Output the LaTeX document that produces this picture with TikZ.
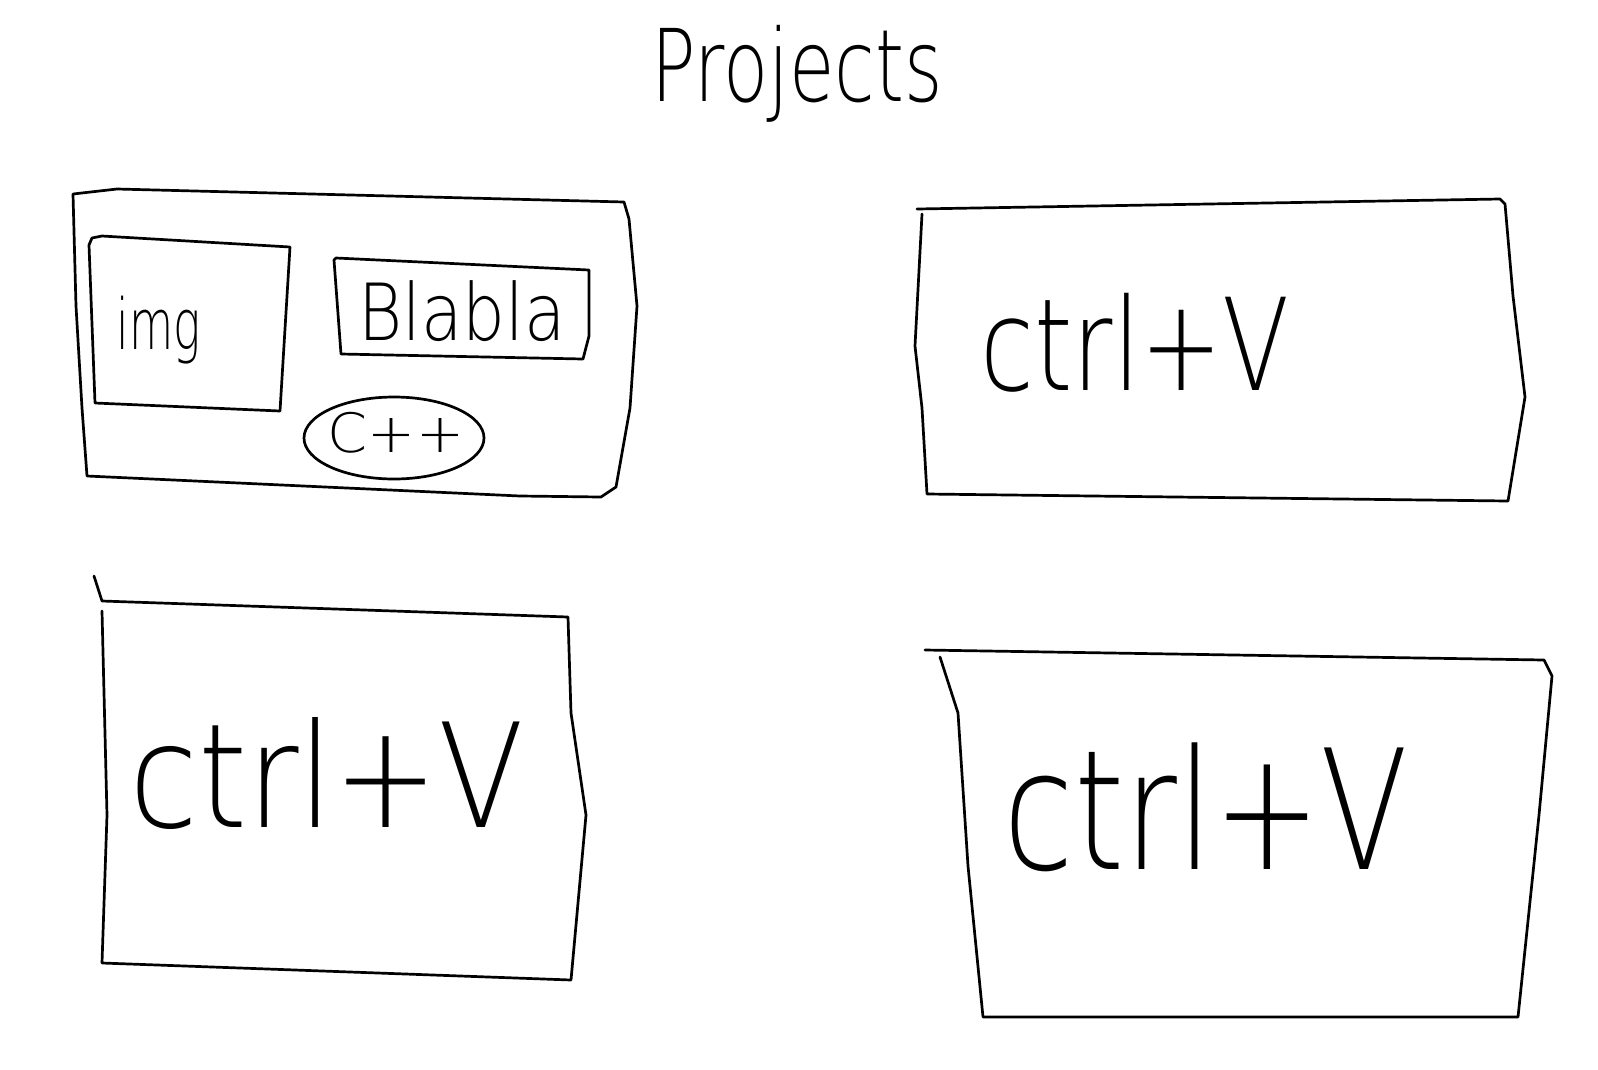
\documentclass[tikz,border=0pt]{standalone}
\usepackage{fontspec}
\setmainfont{DejaVu Sans ExtraLight}
\begin{document}
\begin{tikzpicture}[x=1pt,y=-1pt,
  sketch/.style={line width=2.7pt, line join=round, line cap=round},
  hand/.style={inner sep=0pt, anchor=center}]
\useasboundingbox[fill=white] (0,0) rectangle (1598,1069);
% title
\node[hand] (title) at (797,74) {\resizebox*{291pt}{97pt}{Projects}};
% box 1
\draw[sketch] (73,194) -- (117,189) -- (624,202) -- (629,219) -- (637,306) -- (630,408) -- (616,487) -- (601,497) -- (520,496) -- (87,476) -- (82,408) -- (76,306) -- cycle;
\draw[sketch] (89,245) -- (92,238) -- (102,236) -- (290,247) -- (280,411) -- (95,403) -- cycle;
\draw[sketch] (334,260) -- (336,258) -- (589,270) -- (589,336) -- (583,359) -- (341,354) -- cycle;
\draw[sketch] (394,438) ellipse [x radius=90, y radius=41];
\node[hand] (img) at (159,330) {\resizebox*{84pt}{68pt}{img}};
\node[hand] (blabla) at (462,311) {\resizebox*{207pt}{61pt}{Blabla}};
\node[hand] (cpp) at (396,433) {\resizebox*{136pt}{41pt}{C++}};
% box 2
\draw[sketch] (917,209) -- (1500,199) -- (1505,204) -- (1513,296) -- (1525,397) -- (1508,501) -- (927,494) -- (922,408) -- (915,346) -- (922,214);
\node[hand] (v2) at (1135,343) {\resizebox*{309pt}{99pt}{ctrl+V}};
% box 3
\draw[sketch] (94,576) -- (102,601) -- (568,617) -- (571,713) -- (586,815) -- (571,980) -- (102,963) -- (107,815) -- (102,611);
\node[hand] (v3) at (327,774) {\resizebox*{395pt}{112pt}{ctrl+V}};
% box 4
\draw[sketch] (925,650) -- (1544,660) -- (1552,676) -- (1539,815) -- (1518,1017) -- (983,1017) -- (968,866) -- (958,713) -- (940,657);
\node[hand] (v4) at (1206,807) {\resizebox*{405pt}{129pt}{ctrl+V}};
\end{tikzpicture}
\end{document}
